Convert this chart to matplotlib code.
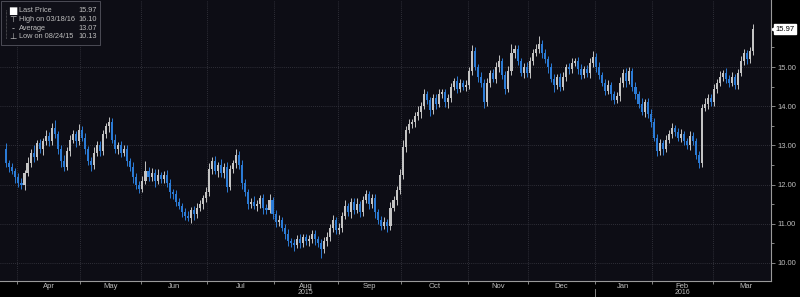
import numpy as np
import pandas as pd
import matplotlib
matplotlib.use("Agg")
import matplotlib.pyplot as plt
import matplotlib.transforms as mtransforms
from matplotlib.patches import Rectangle
from matplotlib.lines import Line2D

plt.rcParams["font.family"] = ["Liberation Sans", "DejaVu Sans"]

# --- data (daily candles, 26 Mar 2015 .. 18 Mar 2016) ---
holidays = ["2015-04-03", "2015-05-25", "2015-07-03", "2015-09-07", "2015-11-26",
            "2015-12-25", "2016-01-01", "2016-01-18", "2016-02-15"]

first_open = 12.90
closes = [
    12.55, 12.45, 12.35, 12.20,  # Mar
    12.05, 12.00, 12.30, 12.55, 12.80, 12.70, 13.05, 12.90, 13.10, 13.25, 13.10,
    13.45, 13.30, 12.90, 12.60, 12.45, 12.85, 13.15, 13.30, 13.10, 13.40,  # Apr
    13.20, 12.90, 12.60, 12.50, 12.80, 13.00, 12.85, 13.30, 13.50, 13.60,
    13.15, 12.90, 13.00, 12.80, 12.90, 12.60, 12.45, 12.20, 12.00, 11.90,  # May
    12.10, 12.35, 12.20, 12.30, 12.10, 12.25, 12.15, 12.25, 12.05, 11.80, 11.75,
    11.55, 11.45, 11.30, 11.20, 11.15, 11.35, 11.25, 11.40, 11.50, 11.65, 11.80,  # Jun
    12.40, 12.60, 12.35, 12.50, 12.30, 12.45, 11.95, 12.40, 12.55, 12.75, 12.50,
    12.05, 11.80, 11.50, 11.55, 11.45, 11.50, 11.65, 11.40, 11.35, 11.60, 11.25,  # Jul
    11.05, 11.10, 10.90, 10.75, 10.55, 10.50, 10.45, 10.60, 10.50, 10.65, 10.55,
    10.60, 10.75, 10.60, 10.50, 10.35, 10.55, 10.65, 10.90, 11.10, 10.85,  # Aug
    10.90, 11.20, 11.45, 11.30, 11.55, 11.35, 11.50, 11.30, 11.60, 11.75, 11.50,
    11.65, 11.30, 11.10, 10.95, 11.05, 10.95, 11.40, 11.60, 11.85, 12.25,  # Sep
    12.95, 13.40, 13.55, 13.60, 13.75, 13.85, 14.00, 14.30, 14.15, 13.90, 14.20,
    14.05, 14.30, 14.35, 14.10, 14.20, 14.50, 14.65, 14.45, 14.60, 14.50, 14.55,  # Oct
    14.90, 15.40, 15.00, 14.75, 14.60, 14.10, 14.60, 14.85, 14.70, 15.00,
    15.15, 14.80, 14.45, 14.90, 15.35, 15.45, 15.15, 14.85, 15.00, 14.85,  # Nov
    15.15, 15.35, 15.45, 15.60, 15.35, 15.20, 15.00, 14.70, 14.55, 14.75, 14.50,
    14.75, 15.00, 14.95, 15.10, 15.15, 14.95, 14.80, 14.95, 14.85, 15.10, 15.25,  # Dec
    15.00, 14.80, 14.60, 14.40, 14.55, 14.30, 14.15, 14.25, 14.60, 14.85,
    14.65, 14.90, 14.50, 14.30, 14.05, 13.85, 14.10, 13.80, 13.60,  # Jan
    13.20, 12.85, 13.05, 12.90, 13.15, 13.30, 13.45, 13.35, 13.20, 13.30,
    13.10, 13.00, 13.25, 13.10, 12.75, 12.55, 13.95, 14.05, 14.20, 14.10,  # Feb
    14.45, 14.60, 14.75, 14.85, 14.70, 14.60, 14.75, 14.55, 14.85, 15.15,
    15.35, 15.20, 15.40, 15.97,  # Mar
]
hi_wick = [
    0.15, 0.08, 0.10, 0.08,
    0.10, 0.12, 0.08, 0.15, 0.10, 0.20, 0.10, 0.12, 0.08, 0.15, 0.10,
    0.12, 0.20, 0.08, 0.10, 0.15, 0.10, 0.12, 0.10, 0.08, 0.15,
    0.10, 0.12, 0.08, 0.10, 0.15, 0.10, 0.12, 0.10, 0.08, 0.12,
    0.10, 0.15, 0.08, 0.10, 0.12, 0.10, 0.08, 0.12, 0.10, 0.08,
    0.12, 0.25, 0.10, 0.12, 0.10, 0.15, 0.08, 0.10, 0.12, 0.10, 0.08,
    0.10, 0.12, 0.08, 0.10, 0.12, 0.08, 0.10, 0.12, 0.10, 0.08, 0.15,
    0.15, 0.10, 0.12, 0.08, 0.15, 0.10, 0.12, 0.10, 0.08, 0.15, 0.10,
    0.12, 0.08, 0.10, 0.12, 0.15, 0.10, 0.08, 0.12, 0.10, 0.15, 0.08,
    0.10, 0.12, 0.08, 0.10, 0.12, 0.08, 0.10, 0.12, 0.15, 0.10, 0.08,
    0.12, 0.10, 0.08, 0.10, 0.12, 0.10, 0.15, 0.10, 0.12, 0.08,
    0.12, 0.10, 0.15, 0.08, 0.12, 0.10, 0.15, 0.08, 0.12, 0.10, 0.08,
    0.12, 0.10, 0.08, 0.10, 0.12, 0.08, 0.15, 0.10, 0.12, 0.15,
    0.20, 0.10, 0.12, 0.08, 0.10, 0.15, 0.12, 0.15, 0.10, 0.08, 0.12,
    0.10, 0.15, 0.08, 0.10, 0.12, 0.10, 0.08, 0.12, 0.10, 0.08, 0.12,
    0.10, 0.15, 0.10, 0.08, 0.12, 0.10, 0.12, 0.08, 0.10, 0.12,
    0.15, 0.08, 0.10, 0.12, 0.25, 0.10, 0.12, 0.08, 0.10, 0.12,
    0.10, 0.12, 0.15, 0.20, 0.10, 0.12, 0.08, 0.10, 0.12, 0.08, 0.10,
    0.12, 0.08, 0.10, 0.12, 0.08, 0.10, 0.12, 0.08, 0.10, 0.12, 0.15,
    0.10, 0.12, 0.08, 0.10, 0.12, 0.08, 0.10, 0.12, 0.15, 0.10,
    0.12, 0.10, 0.08, 0.12, 0.10, 0.15, 0.08, 0.10, 0.12,
    0.10, 0.08, 0.12, 0.10, 0.12, 0.10, 0.12, 0.08, 0.10, 0.12,
    0.08, 0.10, 0.12, 0.08, 0.10, 0.10, 0.10, 0.15, 0.12, 0.10,
    0.12, 0.10, 0.15, 0.08, 0.12, 0.10, 0.12, 0.08, 0.10, 0.12,
    0.10, 0.08, 0.10, 0.13,
]
lo_wick = [
    0.10, 0.12, 0.08, 0.15,
    0.12, 0.10, 0.15, 0.08, 0.10, 0.12, 0.08, 0.10, 0.15, 0.10, 0.12,
    0.08, 0.10, 0.12, 0.15, 0.10, 0.08, 0.12, 0.10, 0.15, 0.10,
    0.08, 0.12, 0.10, 0.15, 0.10, 0.08, 0.12, 0.10, 0.10, 0.15,
    0.08, 0.10, 0.12, 0.10, 0.08, 0.12, 0.10, 0.15, 0.10, 0.12,
    0.10, 0.08, 0.12, 0.10, 0.15, 0.08, 0.10, 0.12, 0.10, 0.15, 0.12,
    0.10, 0.08, 0.12, 0.10, 0.08, 0.12, 0.15, 0.10, 0.08, 0.12, 0.10,
    0.10, 0.12, 0.08, 0.15, 0.10, 0.12, 0.15, 0.08, 0.10, 0.12, 0.10,
    0.15, 0.08, 0.12, 0.10, 0.08, 0.12, 0.10, 0.15, 0.10, 0.08, 0.12,
    0.12, 0.10, 0.08, 0.15, 0.12, 0.10, 0.15, 0.08, 0.12, 0.10, 0.08,
    0.12, 0.10, 0.15, 0.10, 0.22, 0.10, 0.12, 0.08, 0.10, 0.12,
    0.10, 0.12, 0.08, 0.10, 0.15, 0.10, 0.08, 0.12, 0.10, 0.08, 0.12,
    0.10, 0.15, 0.10, 0.12, 0.08, 0.15, 0.10, 0.08, 0.12, 0.10,
    0.10, 0.12, 0.08, 0.10, 0.12, 0.10, 0.15, 0.08, 0.10, 0.15, 0.10,
    0.12, 0.08, 0.10, 0.12, 0.15, 0.10, 0.08, 0.12, 0.10, 0.08, 0.10,
    0.12, 0.10, 0.08, 0.12, 0.10, 0.15, 0.10, 0.12, 0.08, 0.10,
    0.12, 0.10, 0.15, 0.08, 0.10, 0.12, 0.10, 0.08, 0.12, 0.10,
    0.12, 0.10, 0.08, 0.10, 0.12, 0.10, 0.15, 0.08, 0.20, 0.10, 0.12,
    0.08, 0.10, 0.12, 0.10, 0.08, 0.12, 0.10, 0.08, 0.10, 0.12, 0.10,
    0.12, 0.10, 0.08, 0.12, 0.10, 0.15, 0.10, 0.08, 0.12, 0.10,
    0.15, 0.08, 0.10, 0.12, 0.10, 0.08, 0.12, 0.10, 0.12,
    0.10, 0.12, 0.10, 0.15, 0.08, 0.10, 0.12, 0.10, 0.08, 0.12,
    0.10, 0.08, 0.12, 0.10, 0.10, 0.12, 0.10, 0.08, 0.12, 0.10,
    0.10, 0.12, 0.08, 0.10, 0.12, 0.10, 0.08, 0.12, 0.10, 0.08,
    0.10, 0.12, 0.10, 0.10,
]

month_names = ["Apr", "May", "Jun", "Jul", "Aug", "Sep", "Oct", "Nov", "Dec", "Jan", "Feb", "Mar"]
year_under = {"Aug": "2015", "Feb": "2016"}
legend_rows = [("Last Price", "15.97"), ("High on 03/18/16", "16.10"),
               ("Average", "13.07"), ("Low on 08/24/15", "10.13")]
legend_marks = ["\u25a0", "\u22a4", "-", "\u22a5"]
last_price = 15.97

# --- build candles ---
dates = pd.bdate_range("2015-03-26", "2016-03-18", freq="C", holidays=holidays)
close = np.array(closes)
opn = np.concatenate([[first_open], close[:-1]])
high = np.maximum(opn, close) + np.array(hi_wick)
low = np.minimum(opn, close) - np.array(lo_wick)
idx = np.arange(len(close))
up = close >= opn

UP = "#c4c4c4"
DOWN = "#2b7bd6"
TXT = "#bdbdbd"
GRID = "#3a3a44"
colors = np.where(up, UP, DOWN)

per = dates.to_period("M")
starts = [0] + [i for i in range(1, len(per)) if per[i] != per[i - 1]]
starts = starts[1:]  # first trading day of Apr .. Mar

fig = plt.figure(figsize=(8, 2.97), dpi=100, facecolor="black")
ax = fig.add_axes([0, 16 / 297, 771 / 800, 281 / 297])
ax.set_facecolor("#0d0d15")

ax.vlines(idx, low, high, colors=colors, linewidth=0.7, zorder=3)
ax.bar(idx, np.abs(close - opn), bottom=np.minimum(opn, close), width=0.68,
       color=colors, linewidth=0, zorder=4)

ax.set_xlim(-2.1, 252.8)
ax.set_ylim(9.54, 16.71)

# x axis: month separators, labels centred in month
bounds = [s - 0.5 for s in starts]
ax.set_xticks(bounds)
ax.set_xticklabels([])
ax.tick_params(axis="x", direction="out", length=2.5, color="#9a9a9a", width=0.6)
ax.grid(axis="x", color=GRID, linestyle=(0, (1, 1.5)), linewidth=0.6)

trans = mtransforms.blended_transform_factory(ax.transData, ax.transAxes)
ends = starts[1:] + [starts[-1] + 22]
for name, s, e in zip(month_names, starts, ends):
    c = (s + e - 1) / 2
    ax.text(c, -0.018, name, transform=trans, ha="center", va="center",
            fontsize=5.5, color=TXT, clip_on=False)
    if name in year_under:
        ax.text(c, -0.042, year_under[name], transform=trans, ha="center",
                va="center", fontsize=5, color=TXT, clip_on=False)
jan = starts[month_names.index("Jan")] - 0.5
ax.add_line(Line2D([jan, jan], [-0.03, -0.06], transform=trans, color="#9a9a9a",
                   linewidth=0.6, clip_on=False))

# y axis on the right
ax.yaxis.tick_right()
ax.set_yticks(np.arange(10, 16))
ax.set_yticklabels(["%.2f" % v for v in np.arange(10, 16)])
ax.set_yticks(np.arange(10.5, 16.5, 1.0), minor=True)
ax.tick_params(axis="y", which="both", direction="out", color="#9a9a9a",
               labelcolor=TXT, labelsize=5.5, width=0.6, pad=2)
ax.tick_params(axis="y", which="major", length=3)
ax.tick_params(axis="y", which="minor", length=2)
ax.grid(axis="y", which="major", color=GRID, linestyle=(0, (1, 1.5)), linewidth=0.6)
ax.set_axisbelow(True)

for side in ["top", "left"]:
    ax.spines[side].set_visible(False)
for side in ["right", "bottom"]:
    ax.spines[side].set_color("#9a9a9a")
    ax.spines[side].set_linewidth(0.8)

# last price tag
ytr = mtransforms.blended_transform_factory(ax.transAxes, ax.transData)
ax.text(1.006, last_price, "%.2f" % last_price, transform=ytr, ha="left", va="center",
        fontsize=5.5, color="black", clip_on=False,
        bbox=dict(boxstyle="square,pad=0.15", fc="white", ec="white"))
ax.plot([1.002], [last_price], marker="<", markersize=3, color="white",
        transform=ytr, clip_on=False)

# legend box (top-left)
W, H = 800.0, 297.0
fig.add_artist(Rectangle((1 / W, 1 - 45 / H), 99 / W, 44 / H, transform=fig.transFigure,
                         fc="#101018", ec="#555560", lw=0.6, zorder=5))
fig.add_artist(Line2D([6 / W, 6 / W], [1 - 10 / H, 1 - 39 / H], transform=fig.transFigure,
                      color="#777777", lw=0.5, linestyle=(0, (1, 1)), zorder=6))
for k, ((lab, val), mk) in enumerate(zip(legend_rows, legend_marks)):
    yy = 1 - (11 + 8.6 * k) / H
    fig.text(13 / W, yy, mk, ha="center", va="center", fontsize=6 if k else 7,
             color="white" if k == 0 else TXT, zorder=7, family="DejaVu Sans")
    fig.text(19 / W, yy, lab, ha="left", va="center", fontsize=5.3, color=TXT, zorder=7)
    fig.text(97 / W, yy, val, ha="right", va="center", fontsize=5.3, color=TXT, zorder=7)

fig.savefig("out.png", dpi=100, facecolor="black")
